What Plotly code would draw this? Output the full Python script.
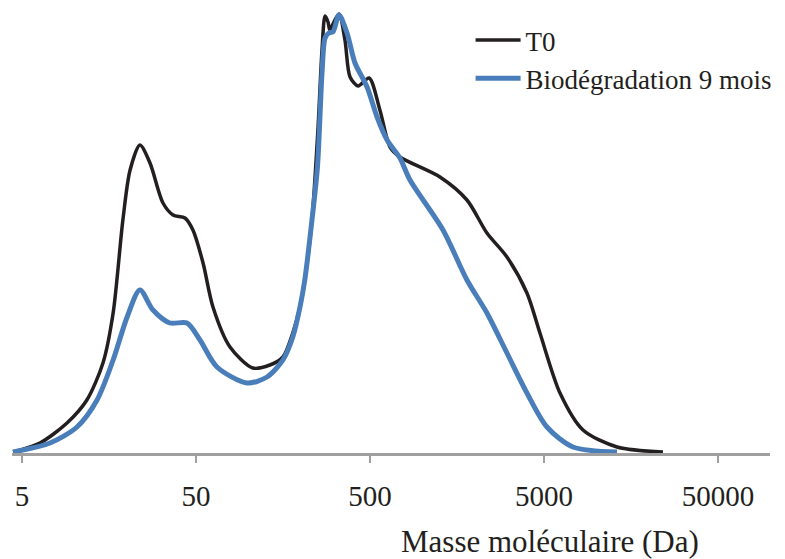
import plotly.graph_objects as go

# Molecular mass (Da) and signal (arbitrary units)
mass_t0 = [4.44, 6.34, 9.07, 11.8, 14.6, 16.7, 19.0, 20.9, 23.8, 27.2, 32.3, 36.9, 43.2, 48.0,
           54.9, 62.6, 78.4, 106, 133, 158, 180, 198, 211, 232, 251, 265, 276, 287, 294, 310,
           332, 359, 384, 427, 494, 570, 652, 743, 1262, 1804, 2350, 3063, 3990, 4740, 6180,
           8380, 13150, 24150]
signal_t0 = [1, 10, 30, 53, 90, 140, 233, 283, 308, 290, 250, 238, 235, 223,
             190, 146, 106, 85, 88, 96, 120, 146, 173, 233, 323, 403, 437, 431, 423, 431,
             439, 413, 376, 367, 375, 343, 306, 296, 276, 253, 220, 196, 160, 120, 60,
             23, 6, 1]

mass_bio = [4.44, 7.24, 10.35, 13.5, 16.7, 20.1, 23.8, 28.3, 35.4, 44.4, 52.7, 66.0, 98.1,
            128, 158, 180, 198, 211, 232, 249.5, 265, 276, 290, 306, 332, 369, 410, 481, 549,
            627, 743, 849, 1314, 1804, 2350, 3063, 3990, 5200, 7340, 13150]
signal_bio = [1, 10, 26, 53, 93, 136, 163, 143, 130, 130, 113, 86, 70,
              76, 93, 116, 146, 173, 233, 286, 380, 415, 420, 421, 438, 420, 390, 366, 336,
              313, 295, 273, 223, 173, 140, 100, 60, 26, 6, 1]

tick_vals = [5, 50, 500, 5000, 50000]
tick_text = ["5", "50", "500", "5000", "50000"]

FONT = "Liberation Serif"

fig = go.Figure()
fig.add_trace(go.Scatter(x=mass_t0, y=signal_t0, mode="lines", name="T0",
                         line=dict(color="#231f20", width=3.5, shape="spline", smoothing=0.8)))
fig.add_trace(go.Scatter(x=mass_bio, y=signal_bio, mode="lines", name="Biodégradation 9 mois",
                         line=dict(color="#4a7ebb", width=5, shape="spline", smoothing=0.8)))

# page body has an 8px margin, so the figure is drawn 8px smaller
fig.update_layout(
    width=777, height=551,
    margin=dict(l=4, r=15, t=0, b=106),
    paper_bgcolor="white", plot_bgcolor="white",
    font=dict(family=FONT, size=29, color="#231f20"),
    showlegend=True,
    legend=dict(x=0.605, y=0.982, xanchor="left", yanchor="top",
                bgcolor="rgba(0,0,0,0)", font=dict(size=27, family=FONT),
                itemwidth=45, tracegroupgap=0),
    xaxis=dict(type="log", range=[0.6415, 4.998],
               tickmode="array", tickvals=tick_vals, ticktext=tick_text,
               showline=True, linecolor="#a0a0a0", linewidth=2.5,
               ticks="outside", ticklen=7, tickwidth=2, tickcolor="#a0a0a0",
               ticklabelstandoff=8,
               showgrid=False, zeroline=False,
               tickfont=dict(family=FONT, size=29, color="#231f20")),
    yaxis=dict(range=[0, 445], visible=False, showgrid=False, zeroline=False),
    annotations=[dict(text="Masse moléculaire (Da)", xref="paper", yref="paper",
                      x=0.7098, y=-0.1978, xanchor="center", yanchor="middle",
                      showarrow=False, font=dict(family=FONT, size=31, color="#231f20"))],
)

fig.write_html("out.html")
